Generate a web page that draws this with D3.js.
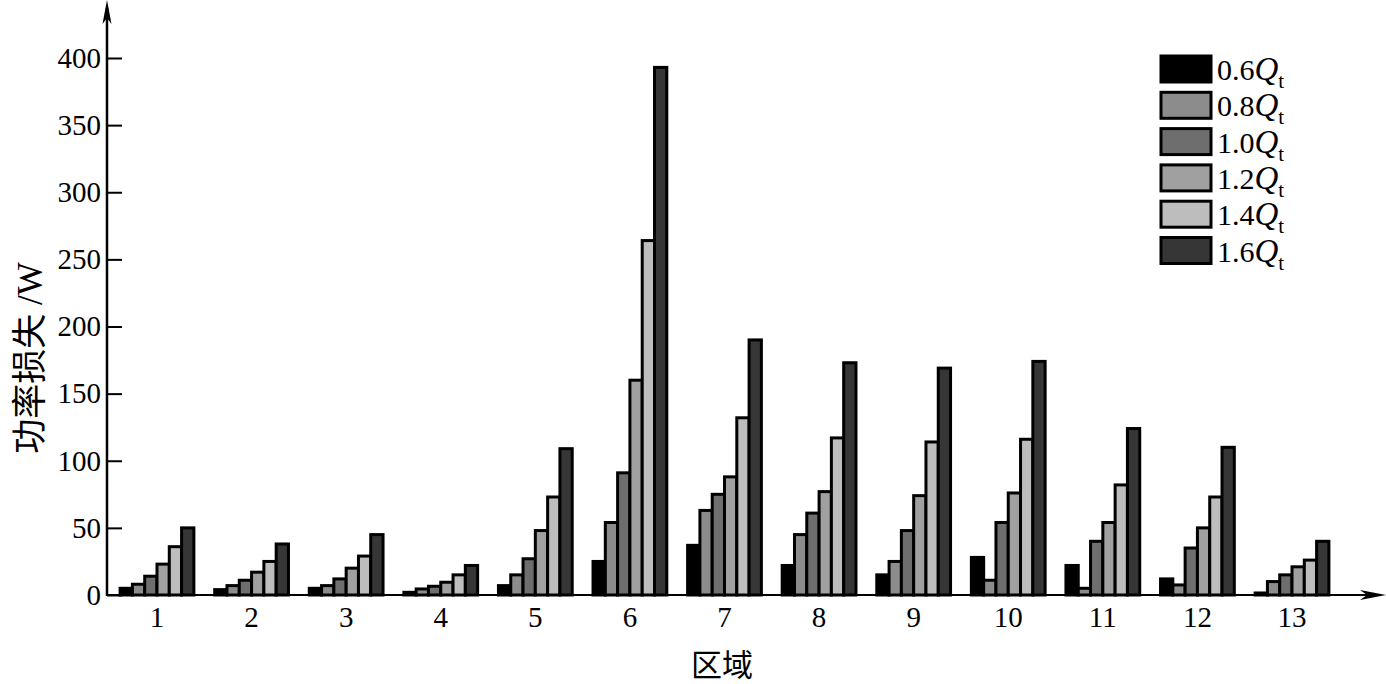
<!DOCTYPE html>
<html>
<head>
<meta charset="utf-8">
<script src="https://cdn.jsdelivr.net/npm/d3@7"></script>
<style>
  body { margin: 0; background: #fff; }
  svg { display: block; }
  text { font-family: "Liberation Serif", "Times New Roman", "Noto Sans CJK SC", serif; fill: #000; }
</style>
</head>
<body>
<div id="wrapper"></div>
<script>
// regions on the x axis
const regions = ["1","2","3","4","5","6","7","8","9","10","11","12","13"];
// flow rates (legend labels), multiples of Qt
const flows = ["0.6","0.8","1.0","1.2","1.4","1.6"];
const flowColors = ["#000000","#8c8c8c","#6e6e6e","#a0a0a0","#bdbdbd","#363636"];

// power loss (W) per region, one array per flow
const q06 = [5, 4, 5, 2, 7, 25, 37, 22, 15, 28, 22, 12, 1.5];
const q08 = [8, 7, 7, 4.5, 15, 54, 63, 45, 25, 11, 5, 7.5, 10];
const q10 = [14, 11, 12, 6.5, 27, 91, 75, 61, 48, 54, 40, 35, 15];
const q12 = [23, 17, 20, 9.5, 48, 160, 88, 77, 74, 76, 54, 50, 21];
const q14 = [36, 25, 29, 15, 73, 264, 132, 117, 114, 116, 82, 73, 26];
const q16 = [50, 38, 45, 22, 109, 393, 190, 173, 169, 174, 124, 110, 40];
const series = [q06, q08, q10, q12, q14, q16];

const yTicks = [0, 50, 100, 150, 200, 250, 300, 350, 400];

const drawChart = () => {
    const width = 1386, height = 684;
    const x0 = 107, y0 = 595;

    const svg = d3.select("#wrapper").append("svg")
        .attr("width", width)
        .attr("height", height);

    // scales
    const xScale = d3.scaleBand()
        .domain(regions)
        .range([109.7, 1339.3])
        .paddingInner(0.22)
        .paddingOuter(0.11);

    const xInner = d3.scaleBand()
        .domain(flows)
        .range([0, xScale.bandwidth()]);

    const yScale = d3.scaleLinear()
        .domain([0, 400])
        .range([y0, 58]);

    // bars
    const groups = svg.append("g")
        .selectAll("g")
        .data(flows)
        .join("g")
        .attr("fill", (d, i) => flowColors[i]);

    groups.selectAll("rect")
        .data((f, i) => regions.map((r, j) => ({ r, f, v: series[i][j] })))
        .join("rect")
        .attr("x", d => xScale(d.r) + xInner(d.f))
        .attr("y", d => yScale(d.v))
        .attr("width", xInner.bandwidth())
        .attr("height", d => y0 - yScale(d.v))
        .attr("stroke", "#000")
        .attr("stroke-width", 3);

    // y axis ticks + labels
    const yAxis = d3.axisLeft(yScale)
        .tickValues(yTicks)
        .tickSizeInner(-15)
        .tickSizeOuter(0)
        .tickPadding(6);

    const yg = svg.append("g")
        .attr("transform", `translate(${x0},0)`)
        .call(yAxis);
    yg.select(".domain").remove();
    yg.selectAll(".tick line").attr("stroke", "#000").attr("stroke-width", 2);
    yg.selectAll(".tick text")
        .attr("font-size", 29)
        .attr("font-family", "Liberation Serif, serif")
        .attr("fill", "#000");

    // x labels
    svg.append("g")
        .selectAll("text")
        .data(regions)
        .join("text")
        .attr("x", d => xScale(d) + xScale.bandwidth() / 2)
        .attr("y", 627)
        .attr("text-anchor", "middle")
        .attr("font-size", 29)
        .text(d => d);

    // axis lines with arrows
    svg.append("line")
        .attr("x1", x0).attr("y1", y0 + 1)
        .attr("x2", x0).attr("y2", 8)
        .attr("stroke", "#000").attr("stroke-width", 2.5);
    svg.append("line")
        .attr("x1", x0 - 1).attr("y1", y0)
        .attr("x2", 1378).attr("y2", y0)
        .attr("stroke", "#000").attr("stroke-width", 2);

    svg.append("path")
        .attr("d", `M${x0},0 L${x0 + 4.5},24 L${x0},18 L${x0 - 4.5},24 Z`)
        .attr("fill", "#000");
    svg.append("path")
        .attr("d", `M1386,${y0} L1360,${y0 - 5} L1367,${y0} L1360,${y0 + 5} Z`)
        .attr("fill", "#000");

    // axis titles
    svg.append("text")
        .attr("transform", "translate(42,358) rotate(-90)")
        .attr("text-anchor", "middle")
        .attr("font-size", 35)
        .text("功率损失 /W");

    svg.append("text")
        .attr("x", 722)
        .attr("y", 676)
        .attr("text-anchor", "middle")
        .attr("font-size", 31)
        .text("区域");

    // legend
    const legend = svg.append("g")
        .selectAll("g")
        .data(flows)
        .join("g")
        .attr("transform", (d, i) => `translate(1161,${56 + i * 36.3})`);

    legend.append("rect")
        .attr("width", 50)
        .attr("height", 26)
        .attr("fill", (d, i) => flowColors[i])
        .attr("stroke", "#000")
        .attr("stroke-width", 3);

    const lt = legend.append("text")
        .attr("x", 56)
        .attr("y", 24)
        .attr("font-size", 30);
    lt.append("tspan").text(d => d);
    lt.append("tspan").attr("font-style", "italic").attr("font-size", 33).text("Q");
    lt.append("tspan").attr("font-size", 21).attr("dy", 8).text("t");
};

drawChart();
</script>
</body>
</html>
